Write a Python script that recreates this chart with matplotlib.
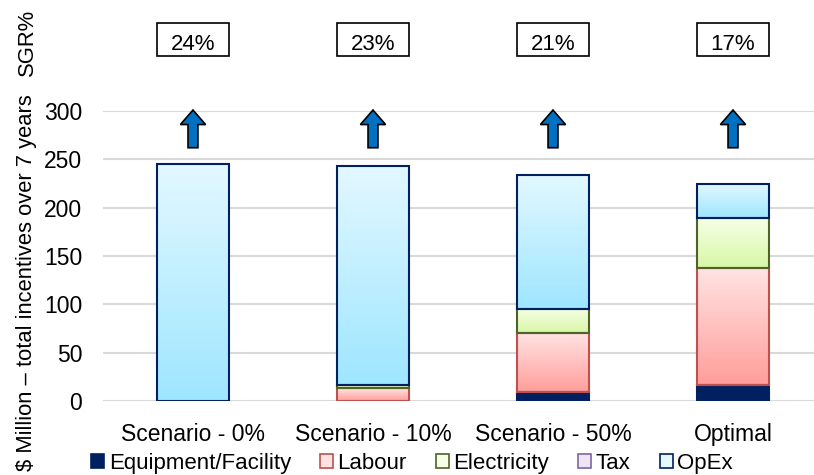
import matplotlib
matplotlib.use("Agg")
import matplotlib.pyplot as plt
import numpy as np
from matplotlib.colors import LinearSegmentedColormap
from matplotlib.patches import Rectangle, FancyArrow, Patch

plt.rcParams['font.family'] = ['Liberation Sans', 'DejaVu Sans']

scenarios = ['Scenario - 0%', 'Scenario - 10%', 'Scenario - 50%', 'Optimal']
equipment = [0, 0, 9, 17]
labour = [0, 13, 61, 121]
electricity = [0, 4, 25, 51]
tax = [0, 0, 0, 0]
opex = [245, 226, 139, 36]
sgr = ['24%', '23%', '21%', '17%']

# name, values, light (top), dark (bottom), edge
series = [
    ('Equipment/Facility', equipment, '#002060', '#002060', '#002060'),
    ('Labour', labour, '#FFE3E3', '#FF9E9A', '#C0504D'),
    ('Electricity', electricity, '#F6FFE6', '#D8F7A6', '#4F6228'),
    ('Tax', tax, '#EEE6F7', '#CDB8E6', '#8064A2'),
    ('OpEx', opex, '#E3F8FF', '#9EE6FF', '#002060'),
]

fig = plt.figure(figsize=(8.14, 4.75), dpi=100)
ax = fig.add_axes([0.1265, 0.1558, 0.8735, 0.6105])

x = np.arange(len(scenarios))
width = 0.4
bottom = np.zeros(len(scenarios))
grad = np.linspace(0, 1, 128).reshape(-1, 1)
handles = []
for name, vals, light, dark, edge in series:
    vals = np.array(vals, dtype=float)
    lw = [1.5 if v > 0 else 0 for v in vals]
    bars = ax.bar(x, vals, width, bottom=bottom, facecolor='none',
                  edgecolor=edge, linewidth=lw, zorder=3)
    cmap = LinearSegmentedColormap.from_list(name, [light, dark])
    for b in bars:
        if b.get_height() <= 0:
            continue
        x0, y0 = b.get_x(), b.get_y()
        # row 0 (light) sits at the top of the segment
        ax.imshow(grad, cmap=cmap, aspect='auto', zorder=2, origin='upper',
                  extent=[x0, x0 + b.get_width(), y0, y0 + b.get_height()])
    handles.append(Patch(facecolor=dark if light == dark else light, edgecolor=edge,
                         linewidth=1.2, label=name))
    bottom += vals

ax.set_xlim(-0.5, 3.45)
ax.set_ylim(0, 300)
ax.set_yticks(range(0, 301, 50))
ax.set_xticks(x)
ax.set_xticklabels(scenarios)
ax.tick_params(length=0, labelsize=16.5)
ax.tick_params(axis='y', pad=15)
ax.tick_params(axis='x', pad=16)
ax.yaxis.grid(True, color='#D9D9D9', linewidth=1.5, zorder=0)
ax.set_axisbelow(True)
for s in ax.spines.values():
    s.set_visible(False)

# growth arrows and SGR boxes above each bar
for xi, label in zip(x, sgr):
    ax.add_patch(FancyArrow(xi, 262, 0, 39, width=0.055, head_width=0.14,
                            head_length=15, length_includes_head=True,
                            facecolor='#0070C0', edgecolor='black', linewidth=1.2,
                            clip_on=False, zorder=4))
    ax.add_patch(Rectangle((xi - 0.2, 357), 0.4, 34, facecolor='white',
                           edgecolor='black', linewidth=1.2, clip_on=False))
    ax.text(xi, 358, label, ha='center', va='bottom', fontsize=16)

fig.text(27 / 814, 1 - 283 / 475, '$ Million – total incentives over 7 years',
         rotation=90, ha='center', va='center', fontsize=15.8)
fig.text(27 / 814, 1 - 42 / 475, 'SGR%', rotation=90, ha='center', va='center',
         fontsize=15.8)

fig.legend(handles=handles, loc='center', bbox_to_anchor=(0.506, 0.025), ncol=5,
           frameon=False, fontsize=16, handlelength=0.6, handleheight=0.6,
           handletextpad=0.2, columnspacing=1.3, borderaxespad=0)

fig.savefig('out.png', dpi=100)
